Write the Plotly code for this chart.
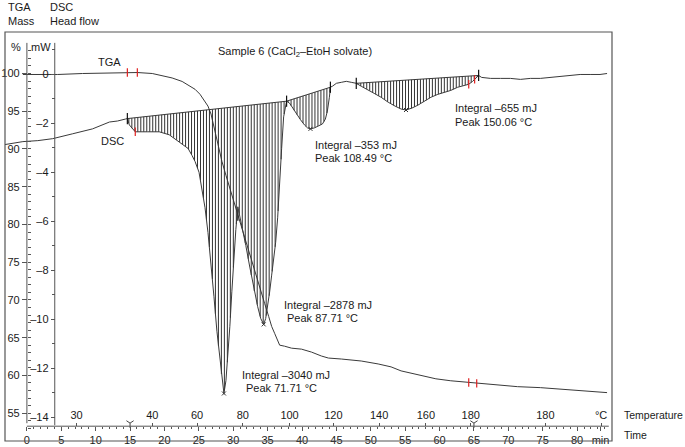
import numpy as np
import plotly.graph_objects as go

# ---------------- data (time in min) ----------------
dsc_time = [-3.18, -0.58, 1.59, 3.76, 6.66, 9.55, 12.01, 13.17, 14.32, 14.61,
            14.90, 15.34, 15.76, 17.51, 19.24, 20.69, 22.14, 23.44, 24.02, 24.45,
            25.03, 25.46, 25.90, 26.33, 26.77, 27.20, 27.63, 28.07, 28.36, 28.65,
            28.94, 29.22, 29.51, 29.80, 30.09, 30.38, 30.67, 31.25, 31.83, 32.41,
            32.99, 33.56, 34.00, 34.43, 34.72, 35.01, 35.30, 35.59, 35.88, 36.17,
            36.46, 36.75, 37.04, 37.33, 37.62, 37.76, 38.19, 38.63, 39.21, 39.79,
            40.36, 40.80, 41.23, 41.81, 42.39, 42.97, 43.40, 43.69, 43.98, 44.13,
            44.42, 45.00, 45.72, 46.44, 47.16, 47.89, 48.61, 49.48, 50.49, 51.50,
            52.52, 53.53, 54.40, 55.12, 55.99, 56.86, 57.87, 58.74, 59.75, 60.62,
            61.63, 62.64, 63.51, 64.24, 64.81, 65.25, 65.68, 66.12, 67.42, 68.87,
            70.31, 71.76, 73.21, 74.65, 76.10, 77.55, 78.99, 80.44, 81.89, 83.33, 84.35]
dsc_mw = [-2.86, -2.74, -2.70, -2.62, -2.42, -2.22, -1.94, -1.90, -1.82, -1.80,
          -2.06, -2.22, -2.34, -2.34, -2.34, -2.46, -2.74, -3.02, -3.31, -3.55,
          -3.99, -4.64, -5.44, -6.45, -7.66, -9.07, -10.48, -11.69, -12.42, -13.02,
          -12.50, -11.49, -10.28, -8.87, -7.54, -6.33, -5.40, -6.17, -6.98, -7.86,
          -8.75, -9.48, -9.96, -10.20, -9.96, -9.48, -8.87, -8.19, -7.54, -6.85,
          -5.85, -4.64, -3.02, -1.73, -1.21, -1.09, -1.17, -1.37, -1.61, -1.85,
          -2.06, -2.18, -2.22, -2.18, -2.10, -2.02, -1.82, -1.49, -0.93, -0.52,
          -0.48, -0.36, -0.32, -0.28, -0.32, -0.36, -0.48, -0.60, -0.77, -0.93,
          -1.13, -1.29, -1.41, -1.45, -1.37, -1.25, -1.09, -0.93, -0.81, -0.73,
          -0.65, -0.52, -0.44, -0.40, -0.28, -0.16, -0.04, -0.12, -0.16, -0.16,
          -0.16, -0.20, -0.16, -0.16, -0.12, -0.08, -0.04, 0.00, 0.00, 0.00, 0.04]

tga_time = [-0.58, 2.31, 4.48, 8.10, 11.00, 14.61, 16.06, 18.23, 19.68, 21.12,
            22.57, 23.58, 24.45, 25.17, 25.90, 26.33, 26.77, 27.34, 27.78, 28.36,
            28.94, 29.37, 29.80, 30.24, 30.67, 31.25, 32.26, 32.99, 33.71, 34.58,
            35.16, 35.59, 36.02, 36.46, 36.75, 37.47, 38.48, 39.93, 41.38, 42.82,
            43.84, 45.72, 47.16, 48.61, 51.07, 52.95, 54.40, 56.13, 57.73, 59.46,
            61.63, 63.08, 64.53, 65.97, 68.87, 71.33, 74.65, 78.56, 81.89, 84.35]
tga_pct = [99.87, 99.87, 99.87, 100.0, 100.07, 100.13, 100.13, 100.0, 99.74, 99.41,
           98.95, 98.43, 97.91, 97.25, 96.34, 95.68, 94.63, 92.28, 90.45, 88.35,
           86.52, 85.21, 83.77, 82.46, 81.15, 79.58, 76.57, 74.35, 72.12, 69.50,
           67.80, 66.49, 65.58, 64.53, 64.01, 63.87, 63.61, 63.48, 63.09, 62.57,
           62.30, 62.17, 62.04, 61.91, 61.52, 61.13, 60.60, 60.21, 59.95, 59.55,
           59.29, 59.16, 59.03, 58.90, 58.64, 58.51, 58.38, 58.12, 57.85, 57.72]

# integration ranges (min)
seg_start = [14.61, 37.76, 47.89]
seg_end = [37.76, 44.13, 65.68]
limit_times = [14.61, 37.76, 44.13, 47.89, 65.68]
peak_times = [28.65, 34.43, 41.23, 55.12]
dsc_red_times = [15.76, 64.24, 65.10]
tga_red_times = [14.61, 16.06, 64.24, 65.40]
tga_step_times = [30.67]

# axes ticks
time_ticks = [0, 5, 10, 15, 20, 25, 30, 35, 40, 45, 50, 55, 60, 65, 70, 75, 80, 83.4]
time_labels = ["0", "5", "10", "15", "20", "25", "30", "35", "40", "45", "50",
               "55", "60", "65", "70", "75", "80", "min"]
temp_tick_times = [7.23, 18.23, 24.74, 31.39, 38.19, 44.56, 51.22, 58.01, 64.53, 75.38, 83.48]
temp_tick_labels = ["30", "40", "60", "80", "100", "120", "140", "160", "180", "180", "°C"]
pct_ticks = [55, 60, 65, 70, 75, 80, 85, 90, 95, 100]
mw_ticks = [0, -2, -4, -6, -8, -10, -12, -14]
mw_labels = ["0", "–2", "–4", "–6", "–8", "–10", "–12", "–14"]
axis_markers_t = [15, 65]

# ---------------- layout geometry ----------------
X0, X1 = -3.18, 85.07
PCT_RANGE = [51.31, 105.50]
MW_RANGE = [-14.96, 1.734]
AX_POS = 0.0362

LINE = "#3a3a3a"
FONT = "Liberation Sans, Arial, Helvetica, sans-serif"

fig = go.Figure()

# hatching
hx, hy = [], []
step = 0.434
for s, e in zip(seg_start, seg_end):
    b0 = np.interp(s, dsc_time, dsc_mw)
    b1 = np.interp(e, dsc_time, dsc_mw)
    for t in np.arange(s + step / 2, e, step):
        base = b0 + (b1 - b0) * (t - s) / (e - s)
        cur = np.interp(t, dsc_time, dsc_mw)
        hx += [t, t, None]
        hy += [base, cur, None]
fig.add_trace(go.Scatter(x=hx, y=hy, mode="lines", xaxis="x", yaxis="y2",
                         line=dict(color="#333333", width=1), hoverinfo="skip"))

# baselines
bx, by = [], []
for s, e in zip(seg_start, seg_end):
    bx += [s, e, None]
    by += [np.interp(s, dsc_time, dsc_mw), np.interp(e, dsc_time, dsc_mw), None]
fig.add_trace(go.Scatter(x=bx, y=by, mode="lines", xaxis="x", yaxis="y2",
                         line=dict(color=LINE, width=1)))

# DSC curve
fig.add_trace(go.Scatter(x=dsc_time, y=dsc_mw, mode="lines", xaxis="x", yaxis="y2",
                         line=dict(color=LINE, width=1)))
# TGA curve
fig.add_trace(go.Scatter(x=tga_time, y=tga_pct, mode="lines", xaxis="x", yaxis="y",
                         line=dict(color=LINE, width=1)))

# markers
fig.add_trace(go.Scatter(x=limit_times, y=np.interp(limit_times, dsc_time, dsc_mw),
                         mode="markers", xaxis="x", yaxis="y2",
                         marker=dict(symbol="line-ns", size=8, color="#111",
                                     line=dict(color="#111", width=1.2))))
fig.add_trace(go.Scatter(x=peak_times, y=np.interp(peak_times, dsc_time, dsc_mw),
                         mode="markers", xaxis="x", yaxis="y2",
                         marker=dict(symbol="x-thin", size=4, color="#333",
                                     line=dict(color="#333", width=1))))
fig.add_trace(go.Scatter(x=dsc_red_times, y=np.interp(dsc_red_times, dsc_time, dsc_mw),
                         mode="markers", xaxis="x", yaxis="y2",
                         marker=dict(symbol="line-ns", size=6, color="#e02020",
                                     line=dict(color="#e02020", width=1.2))))
fig.add_trace(go.Scatter(x=tga_red_times, y=np.interp(tga_red_times, tga_time, tga_pct),
                         mode="markers", xaxis="x", yaxis="y",
                         marker=dict(symbol="line-ns", size=6, color="#e02020",
                                     line=dict(color="#e02020", width=1.2))))
fig.add_trace(go.Scatter(x=tga_step_times, y=np.interp(tga_step_times, tga_time, tga_pct),
                         mode="markers", xaxis="x", yaxis="y",
                         marker=dict(symbol="line-ns", size=7, color="#111",
                                     line=dict(color="#111", width=1.2))))
# temperature axis host trace + axis "Y" markers
fig.add_trace(go.Scatter(x=axis_markers_t, y=[-14.23] * len(axis_markers_t), mode="markers",
                         xaxis="x2", yaxis="y2",
                         marker=dict(symbol="y-down-open", size=6, color="#444",
                                     line=dict(color="#444", width=1))))

fig.update_layout(
    width=685, height=447,
    margin=dict(l=2, r=73, t=32, b=1),
    paper_bgcolor="white", plot_bgcolor="white", showlegend=False,
    font=dict(family=FONT, size=11, color="#1a1a1a"),
    xaxis=dict(range=[X0, X1], anchor="free", position=AX_POS, side="bottom",
               showline=False, showgrid=False, zeroline=False,
               tickmode="array", tickvals=time_ticks, ticktext=time_labels,
               ticks="outside", ticklen=4, tickcolor="#555", tickwidth=1,
               minor=dict(tickmode="array", tickvals=list(range(0, 85)),
                          ticks="outside", ticklen=2, tickcolor="#555")),
    xaxis2=dict(range=[X0, X1], overlaying="x", anchor="free", position=AX_POS, side="top",
                showline=False, showgrid=False, zeroline=False,
                tickmode="array", tickvals=temp_tick_times, ticktext=temp_tick_labels,
                ticks="outside", ticklen=3, tickcolor="#555"),
    yaxis=dict(range=PCT_RANGE, anchor="free", position=0.03607, side="left",
               showline=False, showgrid=False, zeroline=False,
               tickmode="array", tickvals=pct_ticks,
               ticks="outside", ticklen=5, tickcolor="#555",
               minor=dict(tickmode="array", tickvals=list(range(53, 104)),
                          ticks="inside", ticklen=3, tickcolor="#555")),
    yaxis2=dict(range=MW_RANGE, overlaying="y", anchor="free", position=0.08197, side="left",
                showline=False, showgrid=False, zeroline=False,
                tickmode="array", tickvals=mw_ticks, ticktext=mw_labels,
                ticks="outside", ticklen=4, tickcolor="#555",
                minor=dict(tickmode="array", tickvals=[1, -1, -3, -5, -7, -9, -11, -13],
                           ticks="outside", ticklen=3, tickcolor="#555")),
)

# frame and axis lines
fig.add_shape(type="rect", xref="paper", yref="paper", x0=0, x1=1, y0=0, y1=1,
              line=dict(color="#555", width=1.2))
fig.add_shape(type="line", xref="paper", yref="paper", x0=0.03607, x1=0.03607,
              y0=0.0435, y1=0.9734, line=dict(color="#555", width=1))
fig.add_shape(type="line", xref="paper", yref="paper", x0=0.08197, x1=0.08197,
              y0=0.0386, y1=0.9734, line=dict(color="#555", width=1))
fig.add_shape(type="line", xref="x", yref="paper", x0=0, x1=84.6,
              y0=AX_POS, y1=AX_POS, line=dict(color="#555", width=1))


def txt(x, y, s, xanchor="left", size=11):
    fig.add_annotation(x=x, y=y, xref="paper", yref="paper", text=s, showarrow=False,
                       xanchor=xanchor, yanchor="middle", font=dict(size=size, family=FONT, color="#1a1a1a"))


txt(0.0016, 1.0604, "TGA")
txt(0.0705, 1.0604, "DSC")
txt(0.0016, 1.0266, "Mass")
txt(0.0705, 1.0266, "Head flow")
txt((622 - 2) / 610, 0.0628, "Temperature", size=10.5)
txt((622 - 2) / 610, 0.0145, "Time", size=10.5)
txt(0.018, 0.9638, "%", "center")
txt(0.059, 0.9638, "mW", "center")
txt(0.477, 0.9517, "Sample 6 (CaCl<sub>2</sub>–EtoH solvate)", "center")
txt(0.172, 0.9275, "TGA", "center")
txt(0.177, 0.7343, "DSC", "center")

txt((312 - 2) / 610, (446 - 146) / 414, "Integral –353 mJ")
txt((312 - 2) / 610, (446 - 160) / 414, "Peak 108.49 °C")
txt((452 - 2) / 610, (446 - 109) / 414, "Integral –655 mJ")
txt((452 - 2) / 610, (446 - 123) / 414, "Peak 150.06 °C")
txt((280 - 2) / 610, (446 - 308) / 414, "Integral –2878 mJ")
txt((283 - 2) / 610, (446 - 321) / 414, "Peak 87.71 °C")
txt((238 - 2) / 610, (446 - 379) / 414, "Integral –3040 mJ")
txt((242 - 2) / 610, (446 - 392) / 414, "Peak 71.71 °C")

fig.write_html("out.html", config={"displayModeBar": False},
               post_script="document.body.style.margin='0px';document.body.style.overflow='hidden';")
